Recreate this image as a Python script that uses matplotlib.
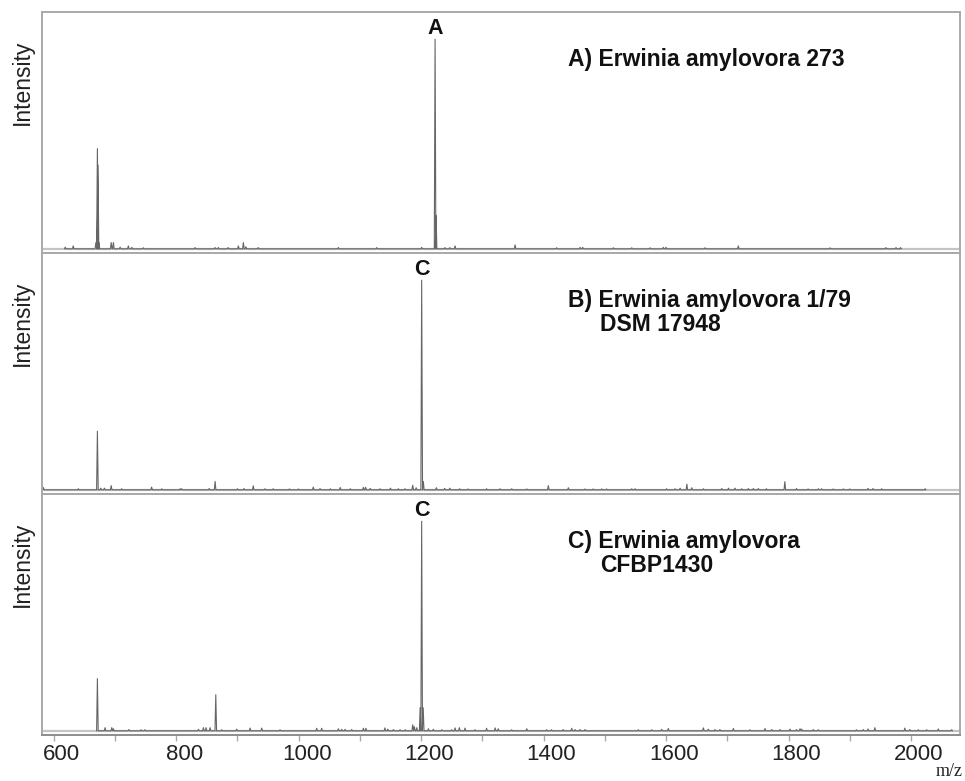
#-------------------------------------------------------------------------------
# MALDI-TOF spectra of three Erwinia amylovora strains (stacked panels)
#-------------------------------------------------------------------------------
import matplotlib
matplotlib.use('Agg')
import matplotlib.pyplot as plt
import matplotlib.transforms as mtransforms
import numpy as np

#-------------------------------------------------------------------------------
# Peak lists: m/z and relative intensity (main peak = 100)

mz_a = [619, 632, 669, 671.5, 672.5, 674, 694, 697.6, 708.6, 722, 727.7, 746.6,
        831, 863.7, 869, 885, 901.7, 909.9, 914, 934, 1065, 1127.6, 1201,
        1222.9, 1224.5, 1239, 1247, 1255.5, 1353.5, 1421.5, 1459.6, 1464, 1514,
        1544, 1574, 1595.6, 1600, 1663.7, 1718, 1867.7, 1959, 1975.5, 1983]
int_a = [0.8, 1.4, 3, 47.8, 40, 3, 3, 3, 0.8, 1.4, 0.7, 0.5,
         0.6, 0.6, 0.6, 0.6, 1.4, 3, 1, 0.6, 0.6, 0.6, 0.7,
         100, 16, 0.6, 0.6, 1.4, 1.9, 0.5, 0.7, 0.7, 0.5,
         0.5, 0.5, 0.7, 0.7, 0.5, 1.4, 0.5, 0.6, 0.6, 0.6]

mz_b = [583.3, 640.5, 671.5, 677, 683, 694, 711, 760, 776.7, 806.5, 809, 854,
        863.7, 900, 911, 926, 945, 958.6, 985, 1000, 1024, 1035, 1052, 1068,
        1084.5, 1105.8, 1109.5, 1117, 1133, 1150, 1163, 1174, 1186.4, 1192,
        1201, 1203.7, 1225, 1238.5, 1247, 1263, 1277, 1307, 1329, 1348, 1372.6,
        1407.8, 1440.5, 1467.7, 1481, 1495, 1503, 1544, 1549.4, 1601, 1614.7,
        1623, 1634, 1642, 1661, 1691, 1702, 1712.6, 1723.6, 1734.4, 1742.6,
        1750.7, 1764, 1794, 1813, 1832, 1848.7, 1854, 1873, 1889.5, 1900, 1930,
        1938, 1952, 2023]
int_b = [1.1, 0.5, 28, 0.8, 0.8, 2, 0.5, 1.3, 0.5, 0.5, 0.5, 0.6,
         4, 0.5, 0.6, 1.9, 0.5, 0.5, 0.4, 0.4, 1.3, 0.6, 0.5, 1.1,
         0.5, 1.2, 1.2, 0.7, 0.5, 0.8, 0.5, 0.5, 2.2, 1,
         100, 4, 1, 0.7, 0.8, 0.5, 0.4, 0.5, 0.5, 0.5, 0.4,
         2, 1, 0.4, 0.4, 0.4, 0.4, 0.5, 0.5, 0.5, 0.5,
         0.8, 2.7, 1, 0.5, 0.6, 0.8, 0.8, 0.5, 0.6, 0.6,
         0.6, 0.5, 3.9, 0.6, 0.4, 0.5, 0.5, 0.4, 0.4, 0.4, 0.7,
         0.6, 0.5, 0.5]

mz_c = [671.5, 684, 695, 697.7, 723, 743, 749, 836.5, 844.6, 849, 855.5, 864.8,
        874.6, 899, 920.8, 939.8, 969.7, 1029.6, 1037.7, 1065, 1070.4, 1075.9,
        1086.7, 1105.8, 1110, 1141, 1145.7, 1154.9, 1165.7, 1174, 1186.4, 1189,
        1193, 1198.5, 1201, 1203.5, 1212, 1220, 1233.9, 1250, 1255.5, 1262.5,
        1271.7, 1288, 1307, 1321, 1326, 1348, 1372.6, 1405, 1413, 1432, 1446,
        1451.4, 1459.6, 1467.8, 1554.8, 1576.6, 1592.9, 1603.8, 1661, 1669, 1680,
        1688, 1710, 1737, 1761.6, 1772.5, 1786, 1802.4, 1813, 1818.8, 1821.5,
        1840.5, 1848.7, 1911, 1922, 1930, 1941, 1990, 1998, 2012, 2025.6, 2044.6,
        2066.4]
int_c = [24.9, 1.5, 1.5, 1, 0.6, 0.5, 0.5, 0.7, 1.5, 1.5, 1.5, 17.2,
         0.5, 0.8, 1.3, 1.3, 0.5, 1.2, 1.2, 1, 0.7, 0.7,
         0.6, 1.2, 1.2, 1.4, 0.8, 0.6, 0.5, 0.5, 2.9, 2,
         1.5, 11, 100, 11, 1, 0.7, 0.5, 0.5, 1.4, 1.5,
         1.3, 0.5, 1.2, 1.4, 1, 0.5, 1, 0.5, 0.5, 0.6, 1.2,
         0.6, 0.6, 0.6, 0.5, 0.5, 0.7, 1.1, 1.4, 0.8, 0.6,
         0.6, 1.1, 0.5, 1.1, 0.6, 0.6, 0.8, 0.6, 1, 0.8,
         0.6, 0.5, 0.5, 0.6, 0.9, 1.5, 1.3, 0.6, 0.5, 0.5, 0.9,
         0.5]

panel_titles = [['A) Erwinia amylovora 273'],
                ['B) Erwinia amylovora 1/79', 'DSM 17948'],
                ['C) Erwinia amylovora', 'CFBP1430']]
peak_labels = ['A', 'C', 'C']

xticks_major = [600, 800, 1000, 1200, 1400, 1600, 1800, 2000]
xticks_minor = [700, 900, 1100, 1300, 1500, 1700, 1900]

#-------------------------------------------------------------------------------

frame_gray = '#a9a9a9'
peak_gray = '#666666'
base_gray = '#c4c4c4'


def stick_profile(mz, inten, halfwidth=1.3):
    """Turn a peak list into a line that goes up and down for each peak."""
    x, y = [], []
    for m, h in sorted(zip(mz, inten)):
        x += [m - halfwidth, m, m + halfwidth]
        y += [0, h, 0]
    return np.array(x), np.array(y)


fig = plt.figure(figsize=(9.65, 7.81), dpi=100)
axes = fig.subplots(3, 1, sharex=True)
fig.subplots_adjust(left=0.0435, right=0.9948, top=0.9846, bottom=0.0589,
                    hspace=0)

spectra = [(mz_a, int_a), (mz_b, int_b), (mz_c, int_c)]

for i, ax in enumerate(axes):
    mz, inten = spectra[i]
    x, y = stick_profile(mz, inten)
    ax.axhline(0, color=base_gray, lw=1.6, zorder=1)
    ax.plot(x, y, color=peak_gray, lw=0.8, zorder=2)

    ax.set_xlim(581, 2080)
    ax.set_ylim(-2.0, 113)
    ax.set_yticks([])

    for side in ['top', 'left', 'right', 'bottom']:
        ax.spines[side].set_color(frame_gray)
        ax.spines[side].set_linewidth(1.4)
    ax.spines['bottom'].set_color('#8c8c8c')

    # label of the strongest peak
    top = int(np.argmax(inten))
    ax.annotate(peak_labels[i], xy=(mz[top], inten[top]),
                xytext=(0, 4), textcoords='offset points',
                ha='center', va='baseline', fontsize=15.5,
                fontweight='bold', family='Liberation Sans', color='#111111')

    # strain name in the upper right
    lines = panel_titles[i]
    ax.text(0.573, 0.775, lines[0], transform=ax.transAxes, ha='left',
            va='baseline', fontsize=16.5, fontweight='bold',
            family='Liberation Sans', color='#111111')
    if len(lines) > 1:
        ax.text(0.608, 0.675, lines[1], transform=ax.transAxes, ha='left',
                va='baseline', fontsize=16.5, fontweight='bold',
                family='Liberation Sans', color='#111111')

    ax.text(-0.0218, 0.71, 'Intensity', transform=ax.transAxes, rotation=90,
            ha='center', va='center', fontsize=16.5,
            family='Liberation Sans', color='#222222')

    ax.tick_params(axis='x', which='both', bottom=False, labelbottom=False)

# Bottom axis ticks
ax = axes[-1]
ax.set_xticks(xticks_major)
ax.set_xticks(xticks_minor, minor=True)
ax.tick_params(axis='x', which='both', bottom=True, direction='out',
               length=4, width=1, color=frame_gray)
ax.tick_params(axis='x', which='major', labelbottom=True, labelsize=16,
               labelcolor='#222222', pad=2.5)
shift = mtransforms.ScaledTranslation(8 / 100., 0, fig.dpi_scale_trans)
for lab in ax.get_xticklabels():
    lab.set_family('Liberation Sans')
    lab.set_transform(lab.get_transform() + shift)

fig.text(963 / 965., 1 / 781., 'm/z', ha='right', va='bottom',
         fontsize=13, family='Liberation Serif', color='#222222')

plt.savefig('out.png', dpi=100)
